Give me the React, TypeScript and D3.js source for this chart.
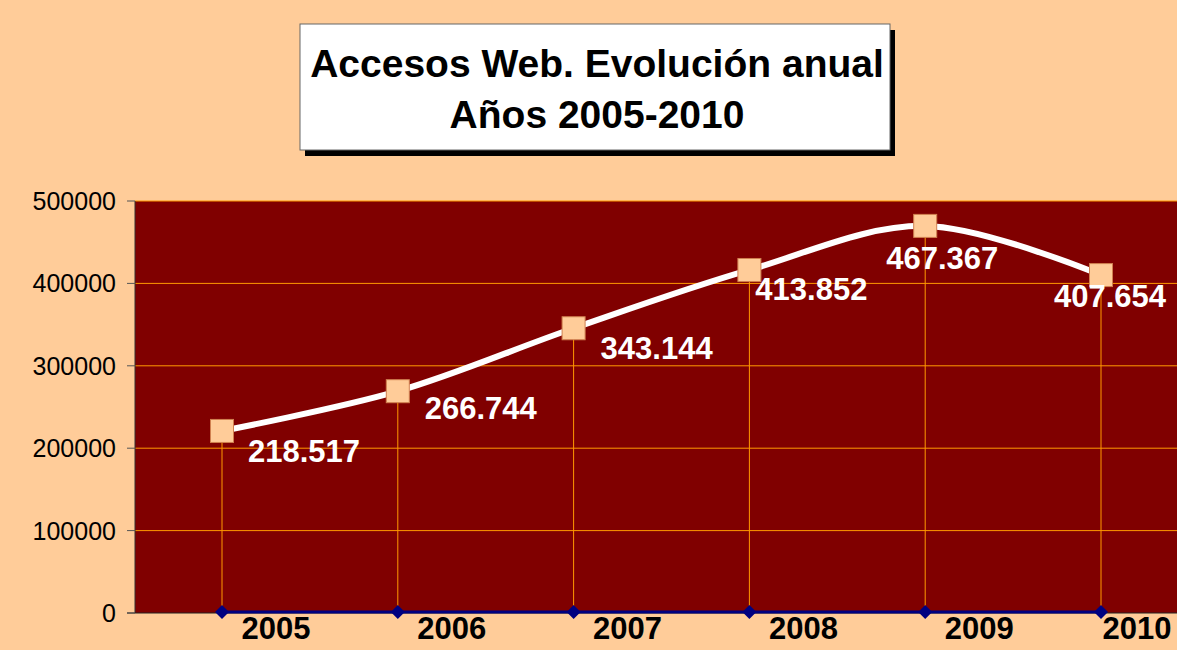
import React from "react";
import * as d3 from "d3";

const years = ["2005", "2006", "2007", "2008", "2009", "2010"];
const accesos = [218517, 266744, 343144, 413852, 467367, 407654];
const baseSeries = [0, 0, 0, 0, 0, 0];
const yTicks = [0, 100000, 200000, 300000, 400000, 500000];
const titleLines = ["Accesos Web. Evolución anual", "Años 2005-2010"];
// label placement offsets (layout only): [dx of text centre, dy of baseline]
const labelOffsets: [number, number][] = [
  [82, 29], [83, 26], [83, 29], [62, 28], [17, 41], [9, 30],
];

const W = 1177, H = 650;
const plot = { left: 135, top: 201, right: 1177, bottom: 613 };
const FONT = "'Liberation Sans', Arial, sans-serif";

export default function App() {
  const x = d3.scalePoint<string>().domain(years).range([222, 1101]);
  const y = d3.scaleLinear().domain([0, 500000]).range([plot.bottom, plot.top]);
  const fmt = (v: number) => d3.format(",")(v).replace(/,/g, ".");

  const line = d3
    .line<number>()
    .x((_, i) => x(years[i])!)
    .y((d) => y(d) - 2)
    .curve(d3.curveCatmullRom.alpha(0.5));

  const baseLine = d3
    .line<number>()
    .x((_, i) => x(years[i])!)
    .y((d) => y(d) - 1);

  const ms = 23;
  const dm = 7;

  return (
    <svg
      width={W}
      height={H}
      style={{ position: "absolute", left: 0, top: 0, background: "#FFCC99" }}
      fontFamily={FONT}
    >
      <rect x={0} y={0} width={W} height={H} fill="#FFCC99" />
      {/* title box */}
      <rect x={305} y={30} width={590} height={126} fill="#000" />
      <rect x={300} y={24} width={590} height={126} fill="#fff" stroke="#666" strokeWidth={1} />
      {titleLines.map((t, i) => (
        <text
          key={i}
          x={597}
          y={77 + i * 51}
          textAnchor="middle"
          fontSize={39}
          fontWeight="bold"
          fill="#000"
        >
          {t}
        </text>
      ))}
      {/* plot area */}
      <rect
        x={plot.left}
        y={plot.top}
        width={plot.right - plot.left}
        height={plot.bottom - plot.top}
        fill="#800000"
      />
      {yTicks.filter((t) => t > 0).map((t) => (
        <line
          key={t}
          x1={plot.left}
          x2={plot.right}
          y1={y(t)}
          y2={y(t)}
          stroke="#FF9900"
          strokeWidth={1}
        />
      ))}
      {/* drop lines */}
      {accesos.map((v, i) => (
        <line
          key={i}
          x1={x(years[i])}
          x2={x(years[i])}
          y1={y(v) - 2}
          y2={plot.bottom}
          stroke="#FF9900"
          strokeWidth={1}
        />
      ))}
      {/* axes */}
      <line x1={plot.left} x2={plot.left} y1={plot.top} y2={plot.bottom} stroke="#333" strokeWidth={1} />
      <line x1={plot.left - 8} x2={plot.right} y1={plot.bottom} y2={plot.bottom} stroke="#222" strokeWidth={1} />
      {yTicks.map((t) => (
        <g key={t}>
          <line x1={plot.left - 8} x2={plot.left} y1={y(t)} y2={y(t)} stroke="#555" strokeWidth={1} />
          <text
            x={116}
            y={y(t)}
            dy="0.36em"
            textAnchor="end"
            fontSize={25}
            fill="#000"
          >
            {t}
          </text>
        </g>
      ))}
      {/* base series */}
      <path d={baseLine(baseSeries)!} fill="none" stroke="#000080" strokeWidth={3} />
      {baseSeries.map((v, i) => {
        const cx = x(years[i])!;
        const cy = y(v) - 1;
        return (
          <path
            key={i}
            d={`M${cx},${cy - dm}L${cx + dm},${cy}L${cx},${cy + dm}L${cx - dm},${cy}Z`}
            fill="#000080"
          />
        );
      })}
      {/* main line */}
      <path d={line(accesos)!} fill="none" stroke="#fff" strokeWidth={6} strokeLinejoin="round" />
      {accesos.map((v, i) => (
        <rect
          key={i}
          x={x(years[i])! - ms / 2}
          y={y(v) - 2 - ms / 2}
          width={ms}
          height={ms}
          fill="#FFCC99"
          stroke="#D08050"
          strokeWidth={1}
        />
      ))}
      {accesos.map((v, i) => (
        <text
          key={i}
          x={x(years[i])! + labelOffsets[i][0]}
          y={y(v) + labelOffsets[i][1]}
          textAnchor="middle"
          fontSize={31}
          fontWeight="bold"
          fill="#fff"
        >
          {fmt(v)}
        </text>
      ))}
      {/* x labels */}
      {years.map((yr, i) => {
        const cx = Math.min(x(yr)! + 54, 1137);
        return (
          <text
            key={yr}
            x={cx}
            y={639}
            textAnchor="middle"
            fontSize={31}
            fontWeight="bold"
            fill="#000"
          >
            {yr}
          </text>
        );
      })}
    </svg>
  );
}
